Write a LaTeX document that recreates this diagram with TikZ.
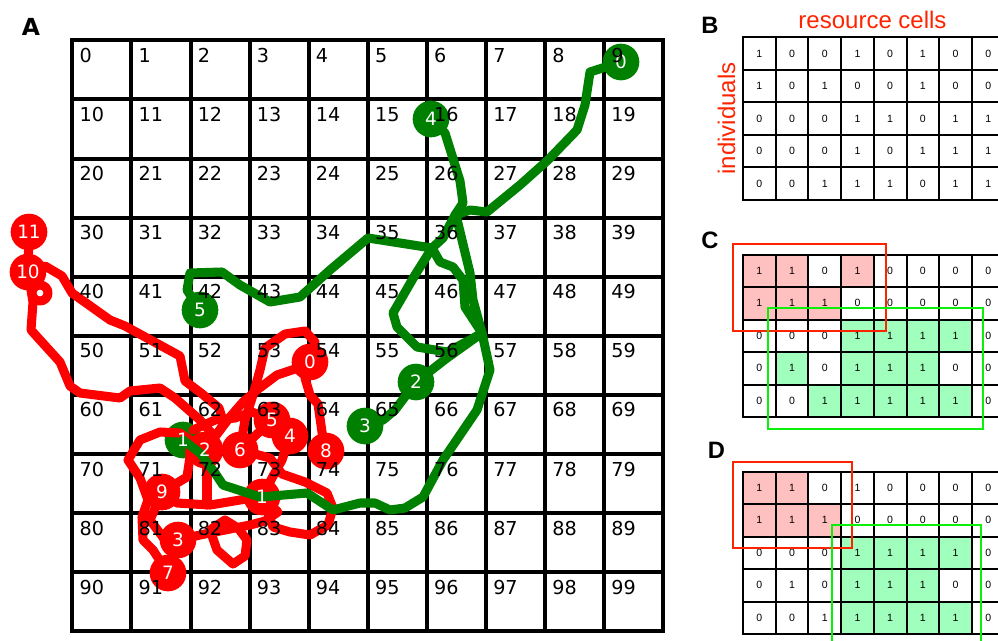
\documentclass[tikz,border=0pt]{standalone}
\usepackage{fontspec}
\setmainfont{DejaVu Sans}
\newfontfamily\helv{Liberation Sans}
\usepackage{tikz}

\definecolor{trackred}{RGB}{255,0,0}
\definecolor{trackgreen}{RGB}{0,128,0}
\definecolor{boxred}{RGB}{255,36,0}
\definecolor{boxgreen}{RGB}{10,240,10}
\definecolor{cellpink}{RGB}{255,192,192}
\definecolor{cellmint}{RGB}{160,255,188}

\begin{document}
\begin{tikzpicture}[x=0.75pt,y=0.75pt,yscale=-1,xscale=1,
  gridline/.style={line width=3pt,line cap=rect},
  cellnum/.style={anchor=base west,inner sep=0pt,font=\fontsize{14.4}{17}\selectfont},
  panel/.style={inner sep=0pt,font=\fontsize{17.6}{20}\selectfont\bfseries},
  bitline/.style={line width=1.5pt,line cap=rect},
  bit/.style={inner sep=0pt,font=\helv\fontsize{7.9}{9}\selectfont},
  spot/.style={circle,minimum size=27.5pt,inner sep=0pt},
  spotnum/.style={inner sep=0pt,text=white,font=\fontsize{13.8}{16}\selectfont},
  track/.style={line width=6.8pt,line join=round,line cap=round},
  selbox/.style={line width=1.5pt}]
\path[use as bounding box] (0,0) rectangle (998,640);
\clip (0,0) rectangle (998,640);

%Panel labels
\node[panel] (lblA) at (31,27) {A};
\node[panel,font=\helv\fontsize{17.8}{20}\selectfont\bfseries] (lblB) at (710,25.5) {B};
\node[panel,font=\helv\fontsize{17.8}{20}\selectfont\bfseries] (lblC) at (710,240.5) {C};
\node[panel,font=\helv\fontsize{17.8}{20}\selectfont\bfseries] (lblD) at (716.5,450) {D};

%Landscape grid
\foreach \i in {0,...,10} {
  \draw[gridline] ({72.3+59.1*\i},40.3) -- ({72.3+59.1*\i},631.3);
  \draw[gridline] (72.3,{40.3+59.1*\i}) -- (663.3,{40.3+59.1*\i});
}

%Positions of the two individuals
\node[spot,fill=trackgreen] (g0) at (621,62) {};
\node[spot,fill=trackgreen] (g1) at (183,440) {};
\node[spot,fill=trackgreen] (g2) at (416,382) {};
\node[spot,fill=trackgreen] (g3) at (365,426) {};
\node[spot,fill=trackgreen] (g4) at (431,119) {};
\node[spot,fill=trackgreen] (g5) at (200,310) {};
\node[spot,fill=trackred] (r0) at (310,362) {};
\node[spot,fill=trackred] (r1) at (262,497) {};
\node[spot,fill=trackred] (r2) at (205,450) {};
\node[spot,fill=trackred] (r3) at (178,540) {};
\node[spot,fill=trackred] (r4) at (290,436) {};
\node[spot,fill=trackred] (r5) at (272,420) {};
\node[spot,fill=trackred] (r6) at (240,450) {};
\node[spot,fill=trackred] (r7) at (168,573) {};
\node[spot,fill=trackred] (r8) at (326,451) {};
\node[spot,fill=trackred] (r9) at (162,492) {};
\node[spot,fill=trackred] (r10) at (28,272) {};
\node[spot,fill=trackred] (r11) at (29,232) {};

%Red track
\draw[track,draw=trackred] (r11.center) -- (r10.center);
\draw[track,draw=trackred] (r10.center) -- (45,266) -- (62,276) -- (72,293) -- (110,320) -- (125,326) -- (180,356) -- (185,381) -- (201,393) -- (219,408) -- (224,424) -- (r2.center);
\draw[track,draw=trackred] (40,293) circle [radius=8];
\draw[track,draw=trackred] (r10.center) -- (33,302) -- (31,330) -- (40,340) -- (60,362) -- (70,386) -- (80,393) -- (120,398) -- (130,391) -- (160,388) -- (175,398) -- (200,420) -- (215,437) -- (r2.center);
\draw[track,draw=trackred] (r0.center) -- (305,378) -- (310,395) -- (318,404) -- (322,432) -- (r8.center);
\draw[track,draw=trackred] (r0.center) -- (295,369) -- (277,375) -- (257,390) -- (243,402) -- (230,417) -- (r2.center);
\draw[track,draw=trackred] (r6.center) -- (245,420) -- (253,395) -- (260,370) -- (265,348) -- (285,334) -- (305,331) -- (315,342) -- (r0.center);
\draw[track,draw=trackred] (r2.center) -- (r6.center) -- (r5.center) -- (r4.center) -- (282,460) -- (272,478) -- (r1.center);
\draw[track,draw=trackred] (193,430) -- (215,420) -- (235,418) -- (252,412) -- (r5.center);
\draw[track,draw=trackred] (r2.center) -- (180,433) -- (160,432) -- (140,440) -- (128,460) -- (140,478) -- (148,500) -- (142,517) -- (143,540) -- (153,550) -- (r7.center) -- (r3.center);
\draw[track,draw=trackred] (r2.center) -- (190,445) -- (190,457) -- (187,477) -- (r9.center) -- (177,503) -- (210,505) -- (240,500) -- (r1.center);
\draw[track,draw=trackred] (r9.center) -- (150,520) -- (165,540) -- (r3.center) -- (200,535) -- (250,525) -- (265,521) -- (278,512) -- (r1.center);
\draw[track,draw=trackred] (225,520) -- (210,530) -- (217,550) -- (233,564) -- (245,556) -- (247,540) -- (238,528) -- cycle;
\draw[track,draw=trackred] (r1.center) -- (273,527) -- (290,532) -- (310,535) -- (328,525) -- (333,508) -- (327,493) -- (305,482) -- (282,474) -- (270,458) -- (r6.center);
\draw[track,draw=trackred] (207,455) -- (207,505);

%Green track
\draw[track,draw=trackgreen] (g0.center) -- (590,72) -- (585,105) -- (577,130) -- (548,160) -- (520,185) -- (487,212) -- (470,210) -- (456,215) -- (462,240) -- (470,273) -- (473,300) -- (482,333) -- (490,370) -- (477,410) -- (443,460) -- (423,497) -- (405,508) -- (390,510) -- (375,503) -- (360,503) -- (333,510) -- (307,493) -- (260,497) -- (223,485) -- (215,473) -- (200,453) -- (g1.center);
\draw[track,draw=trackgreen] (482,333) -- (447,358) -- (g2.center) -- (395,410) -- (383,420) -- (g3.center);
\draw[track,draw=trackgreen] (482,333) -- (465,307) -- (463,280) -- (453,267) -- (440,262) -- (432,248) -- (443,238) -- (455,215) -- (463,203) -- (460,181) -- (445,133) -- (g4.center);
\draw[track,draw=trackgreen] (432,248) -- (368,238) -- (330,270) -- (300,297) -- (270,302) -- (240,285) -- (222,272) -- (190,273) -- (187,290) -- (g5.center);
\draw[track,draw=trackgreen] (432,248) -- (415,275) -- (393,313) -- (397,327) -- (417,347) -- (447,352) -- (470,340) -- (482,333);

%Step numbers
\foreach \s in {0,...,5} \node[spotnum] at (g\s) {\s};
\foreach \s in {0,...,11} \node[spotnum] at (r\s) {\s};

%Cell numbers
\foreach \rr in {0,...,9}
  \foreach \cc in {0,...,9} {
    \pgfmathtruncatemacro\num{10*\rr+\cc}
    \node[cellnum] (cell\num) at ({79.3+59.1*\cc},{62.3+59.1*\rr}) {\num};
  }

%Matrix B
\node[text=boxred,inner sep=0pt,anchor=base,font=\helv\fontsize{18}{20}\selectfont] (rescells) at (872.5,28) {resource cells};
\node[text=boxred,inner sep=0pt,anchor=base,rotate=90,font=\helv\fontsize{18}{20}\selectfont] (indiv) at (735,118.5) {individuals};
\begin{scope}[shift={(743,37.3)}]
\foreach \rr in {0,...,5} \draw[bitline] (0,{32.5*\rr}) -- (262,{32.5*\rr});
\foreach \cc in {0,...,7} \draw[bitline] ({32.7*\cc},0) -- ({32.7*\cc},162.5);
\foreach \row [count=\rr from 0] in {{1,0,0,1,0,1,0,0},{1,0,1,0,0,1,0,0},{0,0,0,1,1,0,1,1},{0,0,0,1,0,1,1,1},{0,0,1,1,1,0,1,1}}
  \foreach \v [count=\cc from 0] in \row
    \node[bit] at ({16.35+32.7*\cc},{16.25+32.5*\rr}) {\v};
\end{scope}

%Matrix C
\begin{scope}[shift={(743,254.5)}]
\foreach \cc/\rr in {0/0,1/0,3/0,0/1,1/1,2/1}
  \fill[cellpink] ({32.7*\cc},{32.5*\rr}) rectangle +(32.7,32.5);
\foreach \cc/\rr in {3/2,4/2,5/2,6/2,1/3,3/3,4/3,5/3,2/4,3/4,4/4,5/4,6/4}
  \fill[cellmint] ({32.7*\cc},{32.5*\rr}) rectangle +(32.7,32.5);
\foreach \rr in {0,...,5} \draw[bitline] (0,{32.5*\rr}) -- (262,{32.5*\rr});
\foreach \cc in {0,...,7} \draw[bitline] ({32.7*\cc},0) -- ({32.7*\cc},162.5);
\foreach \row [count=\rr from 0] in {{1,1,0,1,0,0,0,0},{1,1,1,0,0,0,0,0},{0,0,0,1,1,1,1,0},{0,1,0,1,1,1,0,0},{0,0,1,1,1,1,1,0}}
  \foreach \v [count=\cc from 0] in \row
    \node[bit] at ({16.35+32.7*\cc},{16.25+32.5*\rr}) {\v};
\end{scope}
\draw[selbox,boxred] (732.7,244) rectangle (885.7,330.7);
\draw[selbox,boxgreen] (768.3,308.3) rectangle (983.3,429);

%Matrix D
\begin{scope}[shift={(743,471.5)}]
\foreach \cc/\rr in {0/0,1/0,0/1,1/1,2/1}
  \fill[cellpink] ({32.7*\cc},{32.5*\rr}) rectangle +(32.7,32.5);
\foreach \cc/\rr in {3/2,4/2,5/2,6/2,3/3,4/3,5/3,3/4,4/4,5/4,6/4}
  \fill[cellmint] ({32.7*\cc},{32.5*\rr}) rectangle +(32.7,32.5);
\foreach \rr in {0,...,5} \draw[bitline] (0,{32.5*\rr}) -- (262,{32.5*\rr});
\foreach \cc in {0,...,7} \draw[bitline] ({32.7*\cc},0) -- ({32.7*\cc},162.5);
\foreach \row [count=\rr from 0] in {{1,1,0,1,0,0,0,0},{1,1,1,0,0,0,0,0},{0,0,0,1,1,1,1,0},{0,1,0,1,1,1,0,0},{0,0,1,1,1,1,1,0}}
  \foreach \v [count=\cc from 0] in \row
    \node[bit] at ({16.35+32.7*\cc},{16.25+32.5*\rr}) {\v};
\end{scope}
\draw[selbox,boxred] (732.7,461.7) rectangle (852.3,547.7);
\draw[selbox,boxgreen] (832.3,525) rectangle (981,660);
\end{tikzpicture}
\end{document}
